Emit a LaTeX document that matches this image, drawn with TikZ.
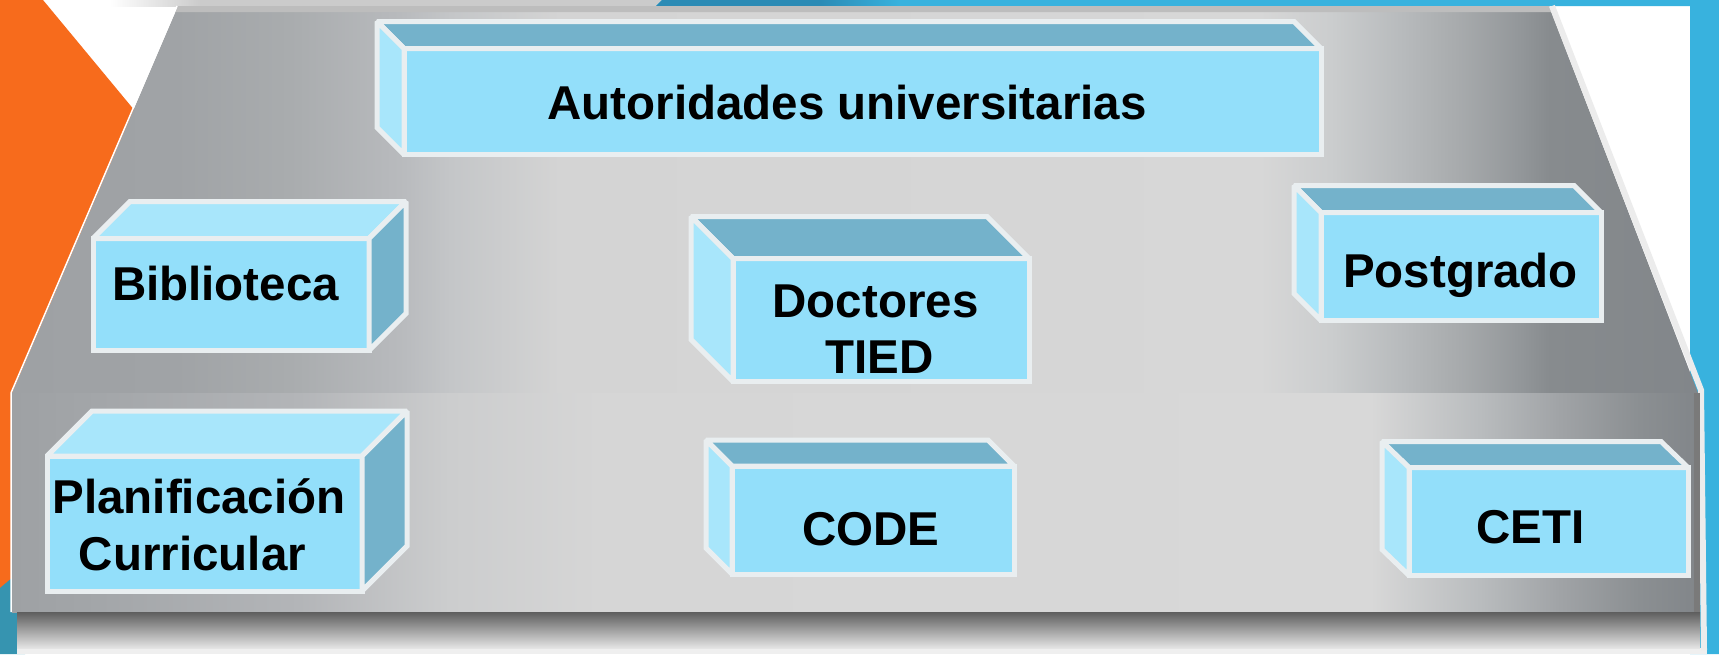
\documentclass[tikz,border=0pt]{standalone}
\usepackage{fontspec}
\setmainfont{Liberation Sans}
\definecolor{orangebg}{HTML}{F76B1C}
\definecolor{bluebg}{HTML}{38B2DE}
\definecolor{bluedk}{HTML}{2B8BB5}
\definecolor{tealbg}{HTML}{3694B0}
\definecolor{frontc}{HTML}{93DFFA}
\definecolor{lightc}{HTML}{A8E6FB}
\definecolor{darkc}{HTML}{74B2CB}
\definecolor{edgec}{HTML}{E9EEF0}
\definecolor{botc}{HTML}{EFEFEF}
\definecolor{topshc}{HTML}{CBCBCB}
\definecolor{stripc}{HTML}{BDBDBD}
\definecolor{bevelc}{HTML}{ECECEC}
\definecolor{rdark}{HTML}{7A7A7A}
\definecolor{sha}{HTML}{5E5E5E}
\definecolor{shb}{HTML}{939393}
\definecolor{shc}{HTML}{E4E4E4}
% trapezoid greys
\definecolor{ta}{HTML}{9EA1A4}
\definecolor{tb}{HTML}{A0A3A6}
\definecolor{tc}{HTML}{A9ACAE}
\definecolor{td}{HTML}{B8BABD}
\definecolor{te}{HTML}{C4C6C8}
\definecolor{tf}{HTML}{D4D4D4}
\definecolor{tg}{HTML}{D7D7D7}
\definecolor{th}{HTML}{CBCDCE}
\definecolor{ti}{HTML}{B8BBBD}
\definecolor{tj}{HTML}{A7AAAC}
\definecolor{tk}{HTML}{93979A}
\definecolor{tl}{HTML}{878B8E}
\definecolor{tm}{HTML}{82868A}
% band greys
\definecolor{ba}{HTML}{9EA1A4}
\definecolor{bb}{HTML}{A3A6A9}
\definecolor{bc}{HTML}{B3B5B8}
\definecolor{bd}{HTML}{CCCDCE}
\definecolor{be}{HTML}{D6D6D6}
\definecolor{bf}{HTML}{D8D8D8}
\definecolor{bg}{HTML}{B9BCBE}
\definecolor{bh}{HTML}{A0A3A6}
\definecolor{bi}{HTML}{8B8F92}
\definecolor{bj}{HTML}{82868A}
\pgfdeclarehorizontalshading{trapshade}{100bp}{color(0bp)=(ta); color(25bp)=(ta); color(29.85bp)=(tb); color(33.25bp)=(tc); color(36.5bp)=(td); color(38bp)=(te); color(41.25bp)=(tf); color(62bp)=(tg); color(64.1bp)=(th); color(66.15bp)=(ti); color(67.95bp)=(tj); color(69.7bp)=(tk); color(70.6bp)=(tl); color(75bp)=(tm); color(100bp)=(tm)}
\pgfdeclarehorizontalshading{bandshade}{100bp}{color(0bp)=(ba); color(25bp)=(ba); color(27.6bp)=(bb); color(33.55bp)=(bc); color(38bp)=(bd); color(42.45bp)=(be); color(65.35bp)=(bf); color(68.6bp)=(bg); color(71bp)=(bh); color(73.35bp)=(bi); color(75bp)=(bj); color(100bp)=(bj)}
\begin{document}
\begin{tikzpicture}[x=1pt,y=-1pt,
  boxline/.style={draw=edgec, line width=5pt, line join=miter, miter limit=1.5},
  lightface/.style={boxline, fill=lightc},
  darkface/.style={boxline, fill=darkc},
  frontface/.style={boxline, fill=frontc, rectangle, inner sep=0pt, outer sep=0pt, anchor=north west},
  lbl/.style={font=\fontsize{47.5pt}{57pt}\selectfont\bfseries, anchor=base, inner sep=0pt, text=black}]
\useasboundingbox (0,0) rectangle (1719,654);
% background
\fill[white] (0,0) rectangle (1719,654);
\fill[topshc] (200,0) rectangle (662,6);
\shade[left color=white, right color=topshc] (110,0) rectangle (200,6);
\fill[bluebg] (656,6) -- (662,0) -- (1719,0) -- (1719,654) -- (1690,654) -- (1690,6) -- cycle;
\fill[bluedk] (656,6) -- (662,0) -- (820,0) -- (820,6) -- cycle;
\shade[left color=bluedk, right color=bluebg] (820,0) rectangle (900,6);
\fill[orangebg] (0,0) -- (43,0) -- (300,310) -- (300,560) -- (0,588) -- cycle;
\fill[tealbg] (0,588) -- (25,567) -- (25,654) -- (0,654) -- cycle;
\fill[botc] (17,648) rectangle (1707,654);
% grey platform
\shade[shading=trapshade] (178,6) -- (1549,6) -- (1698,393) -- (12,393) -- cycle;
\fill[stripc] (178,6) -- (1549,6) -- (1551.3,12) -- (175.4,12) -- cycle;
\draw[bevelc, line width=6pt] (1552,6) -- (1701,390) -- (1704,650);
\draw[white, line width=1.5pt] (177,6) -- (11,393) -- (11,612);
\shade[shading=bandshade] (12,393) rectangle (1695,612);
\shade[top color=sha, middle color=shb, bottom color=shc] (17,612) rectangle (1700,648);
\fill[rdark] (1694,393) rectangle (1700,612);
% Autoridades universitarias
\node[frontface, minimum width=917pt, minimum height=106pt] (aut) at (404,48.5) {};
\filldraw[darkface] (aut.north west) -- ++(-27,-27) -- ++(917,0) -- (aut.north east) -- cycle;
\filldraw[lightface] (aut.north west) -- ++(-27,-27) -- ++(0,106) -- (aut.south west) -- cycle;
% Biblioteca
\node[frontface, minimum width=276pt, minimum height=112pt] (bib) at (93,238.5) {};
\filldraw[lightface] (bib.north west) -- ++(37,-37) -- ++(276,0) -- (bib.north east) -- cycle;
\filldraw[darkface] (bib.north east) -- ++(37,-37) -- ++(0,112) -- (bib.south east) -- cycle;
% Planificacion
\node[frontface, minimum width=315pt, minimum height=135pt] (plan) at (47,456) {};
\filldraw[lightface] (plan.north west) -- ++(45,-45) -- ++(315,0) -- (plan.north east) -- cycle;
\filldraw[darkface] (plan.north east) -- ++(45,-45) -- ++(0,135) -- (plan.south east) -- cycle;
% Doctores
\node[frontface, minimum width=296pt, minimum height=123pt] (doc) at (733,258.5) {};
\filldraw[darkface] (doc.north west) -- ++(-42,-42) -- ++(296,0) -- (doc.north east) -- cycle;
\filldraw[lightface] (doc.north west) -- ++(-42,-42) -- ++(0,123) -- (doc.south west) -- cycle;
% Postgrado
\node[frontface, minimum width=280pt, minimum height=108pt] (pos) at (1321,212.5) {};
\filldraw[darkface] (pos.north west) -- ++(-27,-27) -- ++(280,0) -- (pos.north east) -- cycle;
\filldraw[lightface] (pos.north west) -- ++(-27,-27) -- ++(0,108) -- (pos.south west) -- cycle;
% CODE
\node[frontface, minimum width=282pt, minimum height=108pt] (code) at (732,466) {};
\filldraw[darkface] (code.north west) -- ++(-26,-26) -- ++(282,0) -- (code.north east) -- cycle;
\filldraw[lightface] (code.north west) -- ++(-26,-26) -- ++(0,108) -- (code.south west) -- cycle;
% CETI
\node[frontface, minimum width=279pt, minimum height=108pt] (ceti) at (1409,467.5) {};
\filldraw[darkface] (ceti.north west) -- ++(-27,-26) -- ++(279,0) -- (ceti.north east) -- cycle;
\filldraw[lightface] (ceti.north west) -- ++(-27,-26) -- ++(0,108) -- (ceti.south west) -- cycle;
% labels
\node[lbl] (autL) at (847,119) {Autoridades universitarias};
\node[lbl] (bibL) at (225.5,300) {Biblioteca};
\node[lbl] (planL1) at (199,513) {Planificación};
\node[lbl] (planL2) at (192.5,570) {Curricular};
\node[lbl] (docL1) at (875.5,317) {Doctores};
\node[lbl] (docL2) at (879.5,373) {TIED};
\node[lbl] (posL) at (1460.5,287) {Postgrado};
\node[lbl] (codeL) at (871,545) {CODE};
\node[lbl] (cetiL) at (1530.5,543) {CETI};
\end{tikzpicture}
\end{document}
